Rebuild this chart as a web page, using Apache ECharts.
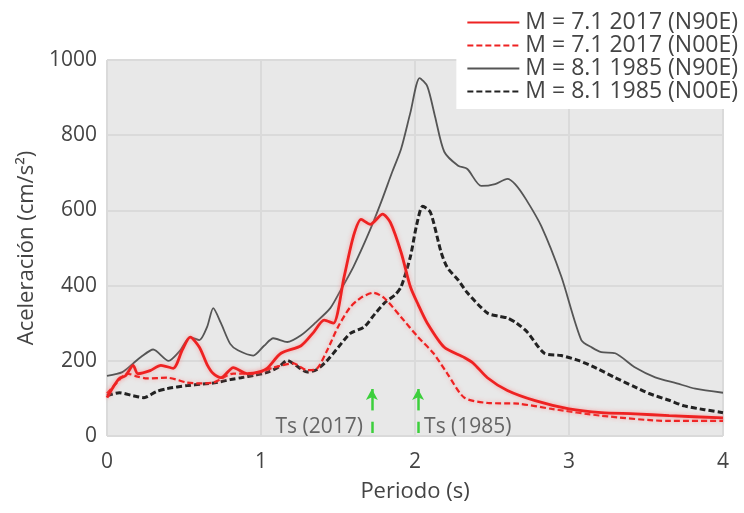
<!DOCTYPE html>
<html>
<head>
<meta charset="utf-8">
<script src="https://cdn.jsdelivr.net/npm/echarts@6/dist/echarts.min.js"></script>
<style>html,body{margin:0;padding:0;background:#fff}#c{width:744px;height:513px}</style>
</head>
<body>
<div id="c"></div>
<script>
const xTicks = [0, 1, 2, 3, 4];
const yTicks = [0, 200, 400, 600, 800, 1000];
const seriesNames = ['M = 7.1 2017 (N90E)', 'M = 7.1 2017 (N00E)', 'M = 8.1 1985 (N90E)', 'M = 8.1 1985 (N00E)'];

const m71_2017_N90E = [[0,102],[0.04,130],[0.08,153],[0.12,160],[0.17,188],[0.2,166],[0.28,174],[0.35,188],[0.43,180],[0.49,230],[0.54,263],[0.6,236],[0.65,190],[0.69,166],[0.74,155],[0.82,182],[0.91,166],[1.0,172],[1.04,180],[1.13,220],[1.26,240],[1.34,275],[1.41,308],[1.47,300],[1.54,424],[1.6,531],[1.65,576],[1.71,563],[1.79,590],[1.84,568],[1.91,488],[1.97,397],[2.02,350],[2.08,300],[2.19,236],[2.32,209],[2.38,193],[2.47,155],[2.6,121],[2.78,94],[3.0,72],[3.21,62],[3.43,59],[3.65,54],[4.0,48]];

const m71_2017_N00E = [[0,113],[0.06,140],[0.13,166],[0.2,158],[0.26,153],[0.39,155],[0.52,142],[0.6,140],[0.69,142],[0.82,166],[0.95,166],[1.08,182],[1.21,193],[1.3,175],[1.36,178],[1.43,228],[1.5,290],[1.58,343],[1.65,368],[1.73,381],[1.8,367],[1.91,316],[2.02,263],[2.12,220],[2.21,166],[2.32,102],[2.47,88],[2.67,86],[2.89,72],[3.21,54],[3.65,40],[4.0,40]];

const m81_1985_N90E = [[0,160],[0.1,170],[0.17,193],[0.22,210],[0.3,230],[0.4,200],[0.47,225],[0.54,263],[0.6,255],[0.65,290],[0.69,340],[0.74,300],[0.8,245],[0.85,228],[0.95,214],[1.02,240],[1.08,260],[1.17,250],[1.26,268],[1.35,300],[1.45,340],[1.52,390],[1.6,450],[1.7,540],[1.78,622],[1.85,700],[1.91,764],[1.97,860],[2.03,952],[2.08,930],[2.13,850],[2.19,756],[2.28,719],[2.34,710],[2.43,665],[2.52,670],[2.6,684],[2.65,670],[2.72,630],[2.82,558],[2.95,424],[3.08,255],[3.15,235],[3.21,223],[3.3,220],[3.43,182],[3.56,156],[3.7,140],[3.82,126],[4.0,115]];

const m81_1985_N00E = [[0,107],[0.08,115],[0.17,107],[0.24,102],[0.32,118],[0.39,126],[0.52,134],[0.62,138],[0.71,142],[0.8,150],[0.87,155],[0.96,162],[1.04,169],[1.12,185],[1.17,201],[1.22,190],[1.3,170],[1.36,176],[1.43,201],[1.5,235],[1.58,273],[1.67,290],[1.74,325],[1.81,357],[1.87,375],[1.91,397],[1.97,477],[2.01,560],[2.05,611],[2.1,595],[2.17,488],[2.21,448],[2.28,415],[2.34,381],[2.47,327],[2.55,318],[2.6,314],[2.66,300],[2.73,276],[2.84,220],[2.95,214],[3.06,201],[3.18,180],[3.3,155],[3.42,132],[3.52,113],[3.65,95],[3.75,80],[3.88,70],[4.0,62]];

const tsPeriods = [1.72, 2.02];
const tsLabels = ['Ts (2017)', 'Ts (1985)'];
const arrowRange = [68, 125];
const tickRange = [8, 38];
const labelY = 25;

const chart = echarts.init(document.getElementById('c'), null, {renderer: 'canvas'});
const FONT = 'Open Sans';
const TXT = '#444';
const green = '#3ccf3c';

const markSegs = [];
tsPeriods.forEach(t => {
  markSegs.push([{coord: [t, arrowRange[0]], symbol: 'none'}, {coord: [t, arrowRange[1]], symbol: 'arrow', symbolSize: [9, 11]}]);
  markSegs.push([{coord: [t, tickRange[0]], symbol: 'none'}, {coord: [t, tickRange[1]], symbol: 'none'}]);
});

chart.setOption({
  animation: false,
  textStyle: {fontFamily: FONT},
  grid: {left: 107, right: 21, top: 60, bottom: 77, show: true, backgroundColor: '#e8e8e8', borderWidth: 0},
  legend: {
    orient: 'vertical', right: 2, top: 8, itemGap: 0, itemWidth: 52, itemHeight: 14,
    backgroundColor: '#ffffff', padding: [3, 4, 6, 10],
    itemStyle: {opacity: 0},
    textStyle: {fontSize: 23, lineHeight: 21, color: TXT, fontFamily: FONT, padding: [0, 0, 0, 1]},
    data: seriesNames
  },
  xAxis: {
    type: 'value', min: 0, max: 4, interval: 1,
    name: 'Periodo (s)', nameLocation: 'middle', nameGap: 45,
    nameTextStyle: {fontSize: 22, color: TXT, fontFamily: FONT},
    axisLine: {show: false}, axisTick: {show: false},
    axisLabel: {fontSize: 21, color: TXT, margin: 16, fontFamily: FONT, formatter: v => xTicks.includes(v) ? String(v) : ''},
    splitLine: {show: true, lineStyle: {color: '#dadada', width: 2}}
  },
  yAxis: {
    type: 'value', min: 0, max: 1000, interval: 200,
    name: 'Aceleración (cm/s²)', nameLocation: 'middle', nameGap: 57,
    nameTextStyle: {fontSize: 22, color: TXT, fontFamily: FONT},
    axisLine: {show: false}, axisTick: {show: false},
    axisLabel: {fontSize: 21, color: TXT, margin: 10, fontFamily: FONT, formatter: v => yTicks.includes(v) ? String(v) : ''},
    splitLine: {show: true, lineStyle: {color: '#dadada', width: 2}}
  },
  series: [
    {name: seriesNames[0], type: 'line', data: m71_2017_N90E, symbol: 'none', smooth: 0.25, z: 5,
     lineStyle: {color: '#ee2222', width: 2.8, shadowColor: 'rgba(255,120,120,0.6)', shadowBlur: 4}, itemStyle: {color: '#ee2222'}},
    {name: seriesNames[1], type: 'line', data: m71_2017_N00E, symbol: 'none', smooth: 0.25, z: 4,
     lineStyle: {color: '#ee2222', width: 2.2, type: [6, 3], shadowColor: 'rgba(255,120,120,0.6)', shadowBlur: 4}, itemStyle: {color: '#ee2222'}},
    {name: seriesNames[2], type: 'line', data: m81_1985_N90E, symbol: 'none', smooth: 0.25, z: 3,
     lineStyle: {color: '#555555', width: 1.8}, itemStyle: {color: '#555555'}},
    {name: seriesNames[3], type: 'line', data: m81_1985_N00E, symbol: 'none', smooth: 0.25, z: 3,
     lineStyle: {color: '#222222', width: 3, type: [6, 3]}, itemStyle: {color: '#222222'}},
    {name: 'ts', type: 'scatter', symbolSize: 0, silent: true, z: 6,
     data: tsPeriods.map((t, i) => ({value: [t, labelY], label: {show: true, formatter: tsLabels[i], position: i === 0 ? 'left' : 'right', distance: i === 0 ? 9 : 6, fontSize: 21, color: TXT, fontFamily: FONT}})),
     markLine: {silent: true, symbol: 'none', label: {show: false}, lineStyle: {color: green, width: 2.5, type: 'solid'}, data: markSegs}
    }
  ]
});
</script>
</body>
</html>
